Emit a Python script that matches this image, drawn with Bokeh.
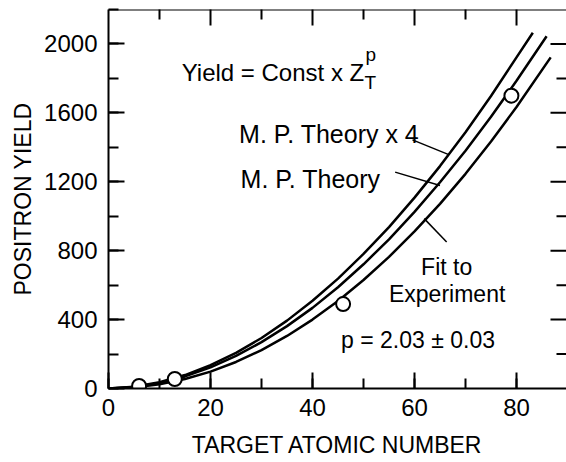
import math
from bokeh.plotting import figure
from bokeh.models import SingleIntervalTicker, Label, Range1d, Span
from bokeh.embed import file_html
from bokeh.resources import INLINE

# ---- data ----
exp_z = [6, 13, 46, 79]
exp_yield = [15, 55, 490, 1700]

fit_z = [0, 5, 10, 15, 20, 25, 30, 35, 40, 45, 50, 55, 60, 65, 70, 75, 80, 86.7]
fit_yield = [0, 6, 24, 55, 98, 154, 223, 305, 400, 508, 630, 764, 912, 1072, 1246, 1434, 1634, 1922]

mp_z = [0, 5, 10, 15, 20, 25, 30, 35, 40, 45, 50, 55, 60, 65, 70, 75, 80, 85.9]
mp_yield = [0, 8, 32, 70, 123, 189, 269, 362, 468, 588, 721, 866, 1025, 1197, 1380, 1577, 1786, 2045]

mp4_z = [0, 5, 10, 15, 20, 25, 30, 35, 40, 45, 50, 55, 60, 65, 70, 75, 80, 83.2]
mp4_yield = [0, 10, 36, 78, 135, 207, 293, 394, 509, 638, 781, 937, 1108, 1291, 1487, 1698, 1922, 2065]

x_major_ticks = [20, 40, 60, 80]
x_minor_ticks = [10, 30, 50, 70]
y_major_ticks = [400, 800, 1200, 1600, 2000]
y_minor_ticks = [200, 600, 1000, 1400, 1800]

X_MAX = 89.8
Y_MAX = 2200
FONT = "Liberation Sans"

p = figure(width=566, height=462, x_range=Range1d(0, X_MAX), y_range=Range1d(0, Y_MAX),
           output_backend="svg", toolbar_location=None,
           min_border_left=108, min_border_right=0, min_border_top=9, min_border_bottom=74,
           x_axis_label="TARGET ATOMIC NUMBER", y_axis_label="POSITRON YIELD")
p.background_fill_color = "white"
p.border_fill_color = "white"
p.outline_line_color = None
p.xgrid.visible = False
p.ygrid.visible = False

def style_axis(ax):
    ax.axis_line_width = 2
    ax.axis_line_color = "black"
    ax.major_tick_in = 16
    ax.major_tick_out = 0
    ax.minor_tick_in = 10
    ax.minor_tick_out = 0
    ax.major_tick_line_width = 2
    ax.minor_tick_line_width = 2
    ax.major_tick_line_color = "black"
    ax.minor_tick_line_color = "black"
    ax.major_label_text_font = FONT
    ax.major_label_text_color = "black"
    ax.major_label_text_font_size = "24px"
    ax.axis_label_text_font = FONT
    ax.axis_label_text_font_style = "normal"
    ax.axis_label_text_color = "black"
    ax.axis_label_text_font_size = "23px"

xb = p.xaxis[0]
yl = p.yaxis[0]
xb.ticker = SingleIntervalTicker(interval=20, num_minor_ticks=2)
yl.ticker = SingleIntervalTicker(interval=400, num_minor_ticks=2)
style_axis(xb)
style_axis(yl)
xb.major_label_standoff = 10
xb.axis_label_standoff = 13
yl.major_label_standoff = 11
yl.axis_label_standoff = 5

# top frame line and inward ticks on top and right edges (clipped to the frame)
p.add_layout(Span(location=Y_MAX, dimension="width", line_color="black", line_width=2))
p.scatter(x=x_major_ticks, y=[Y_MAX] * len(x_major_ticks), marker="dash", angle=math.pi / 2,
          size=32, line_color="black", line_width=2)
p.scatter(x=x_minor_ticks, y=[Y_MAX] * len(x_minor_ticks), marker="dash", angle=math.pi / 2,
          size=20, line_color="black", line_width=2)
p.scatter(x=[X_MAX] * len(y_major_ticks), y=y_major_ticks, marker="dash",
          size=32, line_color="black", line_width=2)
p.scatter(x=[X_MAX] * len(y_minor_ticks), y=y_minor_ticks, marker="dash",
          size=20, line_color="black", line_width=2)

# curves
for zs, ys in [(fit_z, fit_yield), (mp_z, mp_yield), (mp4_z, mp4_yield)]:
    p.line(x=zs, y=ys, line_color="black", line_width=2.5)

p.scatter(x=exp_z, y=exp_yield, marker="circle", size=14, fill_color="white",
          line_color="black", line_width=2)

# leader lines
p.segment(x0=[59.6, 56.2, 66.3], y0=[1443, 1256, 850],
          x1=[66.6, 65.0, 61.9], y1=[1359, 1178, 986],
          line_color="black", line_width=1.5)

def lab(x, y, text, size, align="left"):
    p.add_layout(Label(x=x, y=y, text=text, text_font=FONT, text_font_size=size,
                       text_color="black", text_align=align, text_baseline="alphabetic"))

lab(14.35, 1835, "Yield = Const x Z", "24px")
lab(50.2, 1777, "T", "19px")
lab(50.4, 1938, "p", "19px")
lab(25.6, 1478, "M. P. Theory x 4", "25px")
lab(25.9, 1217, "M. P. Theory", "25px")
lab(66.3, 705, "Fit to", "23px", "center")
lab(66.4, 551, "Experiment", "23px", "center")
lab(45.6, 280, "p = 2.03 \u00b1 0.03", "23px")

open("out.html", "w").write(file_html(p, INLINE))
